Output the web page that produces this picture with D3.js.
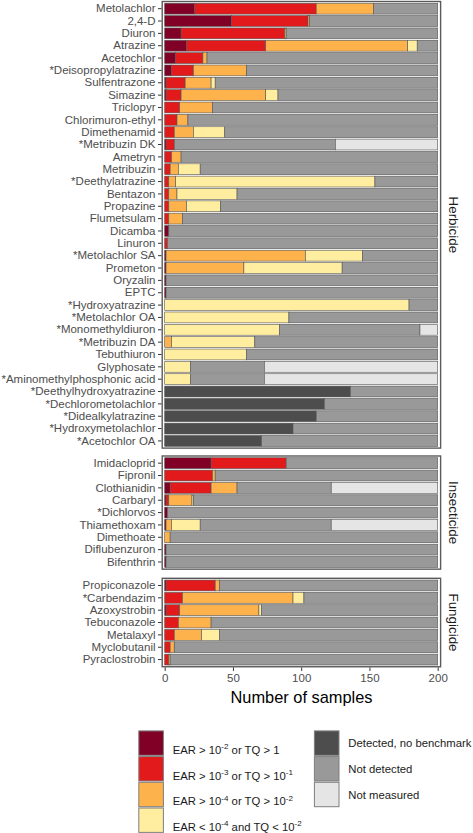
<!DOCTYPE html>
<html><head><meta charset="utf-8">
<script src="https://cdn.jsdelivr.net/npm/d3@7"></script>
<style>body{margin:0;background:#fff}svg{display:block}</style>
</head><body><svg id="c" width="473" height="833"></svg>
<script>
const compounds = ["Metolachlor","2,4-D","Diuron","Atrazine","Acetochlor","*Deisopropylatrazine","Sulfentrazone","Simazine","Triclopyr","Chlorimuron-ethyl","Dimethenamid","*Metribuzin DK","Ametryn","Metribuzin","*Deethylatrazine","Bentazon","Propazine","Flumetsulam","Dicamba","Linuron","*Metolachlor SA","Prometon","Oryzalin","EPTC","*Hydroxyatrazine","*Metolachlor OA","*Monomethyldiuron","*Metribuzin DA","Tebuthiuron","Glyphosate","*Aminomethylphosphonic acid","*Deethylhydroxyatrazine","*Dechlorometolachlor","*Didealkylatrazine","*Hydroxymetolachlor","*Acetochlor OA",
"Imidacloprid","Fipronil","Clothianidin","Carbaryl","*Dichlorvos","Thiamethoxam","Dimethoate","Diflubenzuron","Bifenthrin",
"Propiconazole","*Carbendazim","Azoxystrobin","Tebuconazole","Metalaxyl","Myclobutanil","Pyraclostrobin"];
const classes = ["Herbicide","Insecticide","Fungicide"];
const classCounts = [36, 9, 7];
// series values (number of samples) in compound order
const earGt2 = [22,49,12,16,8,5,1,1,0,0,0,1,0,0,0,0,0,0,3,0,1,1,1,1,0,0,0,0,0,0,0,0,0,0,0,0, 34,0,4,1,2,1,0,1,1, 1,0,1,0,0,0,0];
const earGt3 = [89,56,76,58,20,16,14,11,11,9,7,6,5,4,3,3,3,3,0,2,0,0,0,0,0,0,0,0,0,0,0,0,0,0,0,0, 55,35,30,2,0,0,0,0,0, 36,13,10,10,7,4,3];
const earGt4 = [42,1,1,104,3,39,19,62,24,8,14,0,7,6,5,6,13,10,0,0,102,57,0,0,0,0,0,5,0,0,0,0,0,0,0,0, 0,2,19,17,0,4,4,0,0, 3,81,58,24,20,3,1];
const earLow = [0,0,0,7,0,0,3,9,0,0,23,0,0,16,146,44,25,0,0,0,42,72,0,0,179,91,84,61,60,19,19,0,0,0,0,0, 0,0,0,1,0,21,0,0,0, 0,8,2,0,13,0,0];
const detectedNoBench = [0,0,0,0,0,0,0,0,0,0,0,0,0,0,0,0,0,0,0,0,0,0,0,0,0,0,0,0,0,0,0,136,117,111,94,71, 0,0,0,0,0,0,0,0,0, 0,0,0,0,0,0,0];
const notDetected = [47,94,111,15,169,140,163,117,165,183,156,118,188,174,46,147,159,187,197,198,55,70,199,199,21,109,103,134,140,54,54,64,83,89,106,129, 111,163,69,179,198,96,196,199,199, 160,98,129,166,160,193,196];
const notMeasured = [0,0,0,0,0,0,0,0,0,0,0,75,0,0,0,0,0,0,0,0,0,0,0,0,0,0,13,0,0,127,127,0,0,0,0,0, 0,0,78,0,0,78,0,0,0, 0,0,0,0,0,0,0];
const xTicks = [0,50,100,150,200];
const seriesNames = ["earGt2","earGt3","earGt4","earLow","detectedNoBench","notDetected","notMeasured"];
const seriesColors = ["#800026","#E31A1C","#FEB24C","#FFEDA0","#4D4D4D","#999999","#E5E5E5"];

const svg = d3.select("#c");
const font = "'Liberation Sans', Arial, Helvetica, sans-serif";
const x = d3.scaleLinear().domain([0,200]).range([164.7,437.7]);
const panelL = 162.2, panelR = 440.6, rowH = 12.35, pad = 1.0;
const tops = [1.5, 456.0, 578.3];

const series = [earGt2, earGt3, earGt4, earLow, detectedNoBench, notDetected, notMeasured];
const rows = compounds.map((c,i)=>{ const o={name:c}; seriesNames.forEach((s,k)=>o[s]=series[k][i]); return o; });
const stacked = d3.stack().keys(seriesNames)(rows);

let start = 0;
classes.forEach((cls, pi) => {
  const n = classCounts[pi];
  const names = compounds.slice(start, start+n);
  const top = tops[pi], bottom = top + n*rowH + 2*pad;
  const y = d3.scaleBand().domain(names).range([top+pad, bottom-pad]).paddingInner(0.12).paddingOuter(0.06);
  const g = svg.append("g");
  stacked.forEach((layer, k) => {
    g.selectAll(null).data(layer.slice(start, start+n).filter(d=>d[1]>d[0])).enter().append("rect")
      .attr("x", d=>x(d[0])).attr("width", d=>x(d[1])-x(d[0]))
      .attr("y", d=>y(d.data.name)).attr("height", y.bandwidth())
      .attr("fill", seriesColors[k]).attr("stroke", "#555").attr("stroke-width", 0.6);
  });
  g.append("rect").attr("x", panelL).attr("y", top).attr("width", panelR-panelL).attr("height", bottom-top)
    .attr("fill","none").attr("stroke","#5a5a5a").attr("stroke-width",1.4);
  // y axis
  const ya = svg.append("g").attr("transform", `translate(${panelL-0.7},0)`)
    .call(d3.axisLeft(y).tickSize(3.5).tickPadding(2.5));
  ya.select(".domain").remove();
  ya.selectAll(".tick line").attr("stroke","#333").attr("stroke-width",1);
  ya.selectAll(".tick text").attr("fill","#4D4D4D").style("font-family",font).style("font-size","11.5px");
  // strip label
  svg.append("text").attr("transform", `translate(448.5,${(top+bottom)/2}) rotate(90)`)
    .attr("text-anchor","middle").attr("fill","#1A1A1A").style("font-family",font).style("font-size","13.4px").text(cls);
  if (pi === 2) {
    const xa = svg.append("g").attr("transform", `translate(0,${bottom+0.7})`)
      .call(d3.axisBottom(x).tickValues(xTicks).tickSize(3.5).tickPadding(3));
    xa.select(".domain").remove();
    xa.selectAll(".tick line").attr("stroke","#333");
    xa.selectAll(".tick text").attr("fill","#4D4D4D").style("font-family",font).style("font-size","11.5px");
  }
  start += n;
});

svg.append("text").attr("x", 301.5).attr("y", 703).attr("text-anchor","middle").attr("fill","#000")
  .style("font-family",font).style("font-size","16.4px").text("Number of samples");

// legend
const leftLabels = [
  [["EAR > 10",""],["-2","s"],[" or TQ > 1",""]],
  [["EAR > 10",""],["-3","s"],[" or TQ > 10",""],["-1","s"]],
  [["EAR > 10",""],["-4","s"],[" or TQ > 10",""],["-2","s"]],
  [["EAR < 10",""],["-4","s"],[" and TQ < 10",""],["-2","s"]]
];
const rightLabels = ["Detected, no benchmark","Not detected","Not measured"];
const keyW = 24.6, keyH = 24.4, keyStep = 25.7, keyTop = 730.9;
leftLabels.forEach((parts, i) => {
  const yk = keyTop + i*keyStep;
  svg.append("rect").attr("x",138.8).attr("y",yk).attr("width",keyW).attr("height",keyH)
    .attr("fill",seriesColors[i]).attr("stroke","#7F7F7F").attr("stroke-width",1);
  const t = svg.append("text").attr("x",172.7).attr("y",yk+keyH/2+6.2).attr("fill","#1A1A1A")
    .style("font-family",font).style("font-size","11.3px");
  parts.forEach(([s,type]) => {
    if (type==="s") t.append("tspan").attr("dy",-4.5).style("font-size","8px").text(s);
    else t.append("tspan").attr("dy", t.node().childNodes.length? 4.5:0).text(s);
  });
});
rightLabels.forEach((lab, i) => {
  const yk = keyTop + i*keyStep;
  svg.append("rect").attr("x",314.4).attr("y",yk).attr("width",keyW).attr("height",keyH)
    .attr("fill",seriesColors[4+i]).attr("stroke","#7F7F7F").attr("stroke-width",1);
  svg.append("text").attr("x",348.3).attr("y",yk+keyH/2+4.2).attr("fill","#1A1A1A")
    .style("font-family",font).style("font-size","11.3px").text(lab);
});
</script></body></html>
